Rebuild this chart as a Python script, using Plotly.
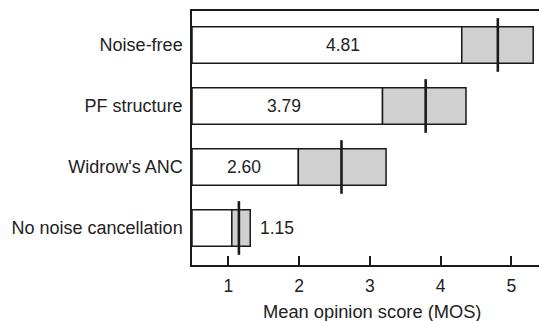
import plotly.graph_objects as go

# Listening test results: mean opinion score with spread per condition
conditions = ["Noise-free", "PF structure", "Widrow's ANC", "No noise cancellation"]
mos_mean = [4.81, 3.79, 2.60, 1.15]
mos_low = [4.30, 3.18, 1.99, 1.05]
mos_high = [5.31, 4.36, 3.23, 1.31]
x_ticks = [1, 2, 3, 4, 5]
x_title = "Mean opinion score (MOS)"

# layout constants
X_RANGE = [0.487, 5.392]
Y_RANGE = [3.607, -0.557]
BAR_W = 0.6
MEAN_HALF = 0.44
label_x = [2.62, 1.79, 1.22, None]   # None -> label placed right of bar
INK = "#1a1a1a"
FONT = dict(family="Liberation Sans, Arial, sans-serif", size=18, color="#222222")

ypos = list(range(len(conditions)))
fig = go.Figure()

# white part: from axis origin to lower bound
fig.add_trace(go.Bar(
    y=ypos, x=[lo - X_RANGE[0] for lo in mos_low], base=[X_RANGE[0]] * len(ypos),
    orientation="h", width=BAR_W,
    marker=dict(color="white", line=dict(color=INK, width=1.5)),
    showlegend=False, hoverinfo="skip"))

# gray part: lower to upper bound
fig.add_trace(go.Bar(
    y=ypos, x=[hi - lo for lo, hi in zip(mos_low, mos_high)], base=mos_low,
    orientation="h", width=BAR_W,
    marker=dict(color="#d0d0d0", line=dict(color=INK, width=1.5)),
    showlegend=False, hoverinfo="skip"))

# vertical marker at the mean
mx, my = [], []
for i, m in enumerate(mos_mean):
    mx += [m, m, None]
    my += [i - MEAN_HALF, i + MEAN_HALF, None]
fig.add_trace(go.Scatter(x=mx, y=my, mode="lines",
                         line=dict(color=INK, width=2.6),
                         showlegend=False, hoverinfo="skip"))

# value labels
for i, (m, lx) in enumerate(zip(mos_mean, label_x)):
    if lx is None:
        fig.add_annotation(x=mos_high[i], y=i, text=f"{m:.2f}", showarrow=False,
                           xanchor="left", xshift=8, font=dict(FONT, size=17.5))
    else:
        fig.add_annotation(x=lx, y=i, text=f"{m:.2f}", showarrow=False,
                           xanchor="center", font=dict(FONT, size=17.5))

# x-axis title placed below the tick labels
fig.add_annotation(x=0.5, xref="paper", y=0, yref="paper", yshift=-46.5, xshift=6,
                   text=x_title, showarrow=False, xanchor="center",
                   yanchor="middle", font=dict(FONT, size=18.3))

fig.update_layout(
    width=539, height=321,
    margin=dict(l=192, r=0, t=11, b=56),
    paper_bgcolor="white", plot_bgcolor="white",
    barmode="overlay", font=FONT,
    xaxis=dict(range=X_RANGE, tickvals=x_ticks, ticks="inside", ticklen=9,
               tickwidth=1.5, tickcolor=INK, showline=True, linecolor=INK,
               linewidth=1.5, mirror=True, showgrid=False, zeroline=False,
               tickfont=dict(FONT, size=17.5), ticklabelstandoff=4),
    yaxis=dict(range=Y_RANGE, tickvals=ypos, ticktext=conditions, ticks="",
               showline=True, linecolor=INK, linewidth=1.5, showgrid=False,
               zeroline=False, ticklabelstandoff=4),
)

fig.write_html("out.html")
